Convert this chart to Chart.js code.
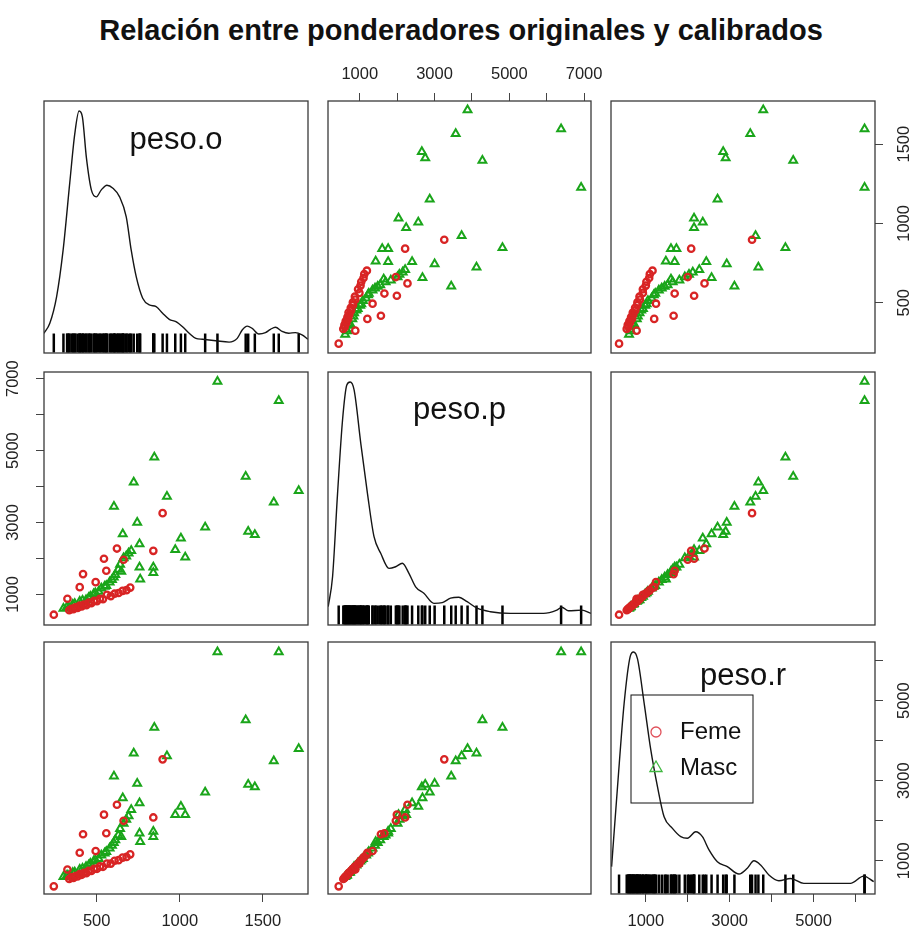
<!DOCTYPE html>
<html lang="es">
<head>
<meta charset="UTF-8">
<title>Relación entre ponderadores originales y calibrados</title>
<style>
    html, body {
        margin: 0;
        padding: 0;
        width: 912px;
        height: 936px;
        overflow: hidden;
        background: #fff;
        position: relative;
    }
    #titulo {
        position: absolute;
        left: 0;
        top: 13px;
        width: 922px;
        text-align: center;
        font: bold 29px "Liberation Sans", Arial, sans-serif;
        line-height: 34px;
        color: #111;
    }
    canvas { position: absolute; }
</style>
</head>
<body>
<div id="titulo">Relación entre ponderadores originales y calibrados</div>
<script src="https://cdn.jsdelivr.net/npm/chart.js"></script>
<script>
// variables de la matriz
const variables = ['peso.o', 'peso.p', 'peso.r'];
const leyendaEtiq = ['Feme', 'Masc'];

// sexo de cada caso (F = Feme, M = Masc)
const sexo = [
    'M','M','M','M','M','M','M','M','M','F',
    'M','M','M','M','M','M','M','M','M','M',
    'F','F','F','F','F','F','F','F','F','F',
    'M','M','M','M','M',
    'F','F','F','F','F','F','F','F','F','F','F','F','F','F','F','F','F','F','F','F','F','F',
    'M','M','M','M','M','M','M','M','M','M','M','M','M','M','M','M','M','M','M','M','M','M','M','M','M'
];
// ponderador original
const pesoO = [
    1227, 1596, 847, 723, 1397, 1716, 923, 604, 1566, 897,
    744, 1153, 1412, 1452, 1007, 657, 973, 1033, 758, 708,
    622, 841, 544, 662, 558, 418, 494, 398, 324, 242,
    758, 841, 841, 762, 648,
    335, 348, 360, 372, 385, 398, 410, 424, 438, 452, 468, 485, 502, 520, 538, 562, 585, 608, 632, 656, 680, 702,
    300, 322, 333, 356, 368, 398, 415, 436, 452, 462, 482, 492, 512, 528, 548, 558, 578, 592, 603, 612, 630, 641, 662, 678, 692
];
// ponderador p
const pesoP = [
    6921, 6385, 4817, 4122, 4280, 3883, 3724, 3446, 3566, 3260,
    3002, 2871, 2751, 2660, 2565, 2677, 2241, 2037, 2399, 2213,
    2276, 2213, 1992, 1965, 1659, 1565, 1342, 1203, 880, 436,
    1759, 1759, 1600, 1425, 1640,
    560, 600, 590, 640, 625, 690, 670, 720, 700, 770, 760, 820, 815, 880, 870, 990, 955, 1020, 1040, 1100, 1120, 1190,
    610, 660, 640, 720, 740, 800, 830, 848, 910, 944, 1010, 1040, 1083, 1170, 1220, 1240, 1340, 1408, 1480, 1547, 1690, 1830, 2010, 2060, 2148
];
// ponderador calibrado
const pesoR = [
    6216, 6216, 4329, 3684, 4515, 3800, 3617, 3113, 3491, 3533,
    2929, 2711, 2904, 2845, 2358, 2568, 2150, 2150, 2442, 2275,
    2400, 2082, 2152, 1999, 1688, 1663, 1243, 1200, 781, 362,
    1688, 1730, 1600, 1478, 1600,
    545, 585, 570, 620, 610, 670, 650, 700, 690, 750, 745, 800, 800, 860, 850, 930, 930, 1000, 1015, 1080, 1095, 1160,
    600, 640, 625, 700, 715, 785, 810, 850, 890, 932, 985, 1020, 1050, 1140, 1190, 1225, 1310, 1380, 1450, 1520, 1640, 1800, 1930, 2030, 2120
];

// curvas de densidad (altura relativa al maximo)
const densOx = [183,218,259,298,338,368,394,414,438,468,498,528,562,598,638,678,708,738,777,817,858,897,937,977,1017,1057,1097,1137,1217,1297,1346,1376,1406,1436,1476,1516,1546,1576,1616,1656,1696,1736,1772];
const densOy = [0.042,0.085,0.20,0.40,0.69,0.90,1.0,0.975,0.80,0.66,0.63,0.66,0.68,0.667,0.63,0.544,0.40,0.286,0.193,0.164,0.157,0.128,0.102,0.092,0.070,0.042,0.020,0.016,0.010,0.004,0.020,0.056,0.073,0.063,0.039,0.045,0.059,0.068,0.050,0.042,0.045,0.035,0.016];
const densPx = [155,272,405,539,653,742,848,1027,1205,1381,1560,1781,1960,2139,2315,2494,2715,2982,3206,3427,3648,3872,4139,4494,5027,5915,6272,6406,6582,6939,7187];
const densPy = [0.036,0.164,0.52,0.837,0.987,1.0,0.966,0.737,0.522,0.336,0.265,0.200,0.207,0.222,0.179,0.121,0.093,0.050,0.053,0.072,0.076,0.057,0.029,0.014,0.007,0.007,0.021,0.033,0.018,0.021,0.007];
const densRx = [184,326,484,627,707,802,960,1119,1278,1436,1635,1833,1992,2190,2349,2507,2706,2944,3221,3420,3578,3737,3935,4173,4451,4768,5244,5879,6196,6434];
const densRy = [0.075,0.42,0.78,0.98,1.0,0.97,0.78,0.578,0.42,0.29,0.24,0.204,0.197,0.225,0.204,0.147,0.096,0.075,0.043,0.068,0.10,0.082,0.039,0.014,0.024,0.003,0.003,0.003,0.034,0.01];

// marcas de los ejes
const ticksO = [500, 1000, 1500];
const etiqO = ['500', '1000', '1500'];
const ticksP = [1000, 2000, 3000, 4000, 5000, 6000, 7000];
const etiqP = ['1000', '', '3000', '', '5000', '', '7000'];
const ticksR = [1000, 2000, 3000, 4000, 5000, 6000];
const etiqR = ['1000', '', '3000', '', '5000', ''];

const valores = [pesoO, pesoP, pesoR];
const densX = [densOx, densPx, densRx];
const densY = [densOy, densPy, densRy];
const marcas = [ticksO, ticksP, ticksR];
const etiquetas = [etiqO, etiqP, etiqR];
const rangos = [[183, 1772], [150, 7185], [170, 6465]];

// posicion de los paneles (px)
const colX = [[44, 308], [328, 591], [611, 875]];
const filaY = [[101, 353], [372, 625], [642, 894]];
const M = 50;
const fam = '"Liberation Sans", Arial, Helvetica, sans-serif';
const rojo = '#d82424', verde = '#1aa51a';
const dyEtiqueta = [47.5, 46.5, 43];

const cajaPlugin = {
    id: 'caja',
    afterDatasetsDraw(chart, args, opts) {
        const ctx = chart.ctx, a = chart.chartArea;
        ctx.save();
        ctx.strokeStyle = '#3a3a3a';
        ctx.lineWidth = 1.3;
        ctx.strokeRect(a.left, a.top, a.right - a.left, a.bottom - a.top);
        if (opts.etiqueta) {
            ctx.fillStyle = '#111';
            ctx.font = '31px ' + fam;
            ctx.textAlign = 'center';
            ctx.textBaseline = 'alphabetic';
            ctx.fillText(opts.etiqueta, (a.left + a.right) / 2, a.top + opts.dy);
        }
        if (opts.leyenda) {
            const lx = a.left, ly = a.top;
            ctx.strokeStyle = '#111';
            ctx.lineWidth = 1;
            ctx.strokeRect(lx + 20, ly + 53, 122, 108);
            ctx.lineWidth = 1.3;
            ctx.strokeStyle = '#e0505a';
            ctx.beginPath();
            ctx.arc(lx + 45, ly + 90, 5, 0, 2 * Math.PI);
            ctx.stroke();
            const tx = lx + 45, ty = ly + 126, r = 7;
            ctx.strokeStyle = '#40b840';
            ctx.beginPath();
            ctx.moveTo(tx, ty - r);
            ctx.lineTo(tx + r * 0.866, ty + r * 0.5);
            ctx.lineTo(tx - r * 0.866, ty + r * 0.5);
            ctx.closePath();
            ctx.stroke();
            ctx.fillStyle = '#111';
            ctx.font = '24px ' + fam;
            ctx.textAlign = 'left';
            ctx.textBaseline = 'middle';
            ctx.fillText(leyendaEtiq[0], lx + 69, ly + 90);
            ctx.fillText(leyendaEtiq[1], lx + 69, ly + 126);
        }
        ctx.restore();
    }
};

function eje(v, pos, visible) {
    const vertical = pos === 'left' || pos === 'right';
    const t = marcas[v], e = etiquetas[v];
    let pad = 10;
    if (pos === 'top') pad = 9;
    if (pos === 'left') pad = 4;
    if (pos === 'right') pad = 3;
    return {
        type: 'linear',
        position: pos,
        display: visible,
        min: rangos[v][0],
        max: rangos[v][1],
        afterBuildTicks: s => { s.ticks = t.map(x => ({ value: x })); },
        afterFit: s => {
            if (!visible) return;
            if (vertical) s.width = M; else s.height = M;
        },
        grid: { drawOnChartArea: false, drawTicks: true, tickLength: 8, color: '#444', tickWidth: 1 },
        border: { display: false },
        ticks: {
            autoSkip: false,
            padding: pad,
            color: '#222',
            font: { family: fam, size: 16.5 },
            minRotation: vertical ? 90 : 0,
            maxRotation: vertical ? 90 : 0,
            crossAlign: vertical ? 'center' : 'near',
            callback: (val, idx) => e[idx]
        }
    };
}

for (let i = 0; i < 3; i++) {
    for (let j = 0; j < 3; j++) {
        const [x0, x1] = colX[j];
        const [y0, y1] = filaY[i];
        const canvas = document.createElement('canvas');
        canvas.width = x1 - x0 + 2 * M;
        canvas.height = y1 - y0 + 2 * M;
        canvas.style.left = (x0 - M) + 'px';
        canvas.style.top = (y0 - M) + 'px';
        document.body.appendChild(canvas);

        const xPos = i === 0 ? 'top' : 'bottom';
        const xVis = (j === 1 && i === 0) || (j !== 1 && i === 2);
        const yPos = j === 0 ? 'left' : 'right';
        const yVis = (i === 1 && j === 0) || (i !== 1 && j === 2);

        const scales = {
            x: eje(j, xPos, xVis),
            y: eje(i, yPos, yVis)
        };
        const datasets = [];
        if (i === j) {
            scales.yd = { type: 'linear', display: false, min: -0.043, max: 1.043 };
            datasets.push({
                type: 'line',
                data: densX[i].map((x, k) => ({ x: x, y: densY[i][k] })),
                yAxisID: 'yd',
                borderColor: '#151515',
                borderWidth: 1.4,
                pointRadius: 0,
                cubicInterpolationMode: 'monotone',
                fill: false
            });
            datasets.push({
                type: 'scatter',
                data: valores[i].map(x => ({ x: x, y: 0 })),
                yAxisID: 'yd',
                pointStyle: 'line',
                rotation: 90,
                pointRadius: 9.5,
                borderColor: '#000',
                borderWidth: 2.5
            });
        } else {
            const puntos = (s) => valores[j]
                .map((x, k) => ({ x: x, y: valores[i][k], s: sexo[k] }))
                .filter(p => p.s === s);
            datasets.push({
                type: 'scatter',
                data: puntos('F'),
                pointStyle: 'circle',
                pointRadius: 3.2,
                borderWidth: 2.3,
                borderColor: rojo,
                backgroundColor: 'rgba(0,0,0,0)'
            });
            datasets.push({
                type: 'scatter',
                data: puntos('M'),
                pointStyle: 'triangle',
                pointRadius: 4.5,
                borderWidth: 2,
                borderColor: verde,
                backgroundColor: 'rgba(0,0,0,0)'
            });
        }

        new Chart(canvas.getContext('2d'), {
            type: 'scatter',
            data: { datasets: datasets },
            plugins: [cajaPlugin],
            options: {
                responsive: false,
                animation: false,
                events: [],
                layout: {
                    padding: {
                        left: (yVis && yPos === 'left') ? 0 : M,
                        right: (yVis && yPos === 'right') ? 0 : M,
                        top: (xVis && xPos === 'top') ? 0 : M,
                        bottom: (xVis && xPos === 'bottom') ? 0 : M
                    }
                },
                scales: scales,
                plugins: {
                    legend: { display: false },
                    tooltip: { enabled: false },
                    caja: {
                        etiqueta: i === j ? variables[i] : null,
                        dy: dyEtiqueta[i],
                        leyenda: i === 2 && j === 2
                    }
                }
            }
        });
    }
}
</script>
</body>
</html>
